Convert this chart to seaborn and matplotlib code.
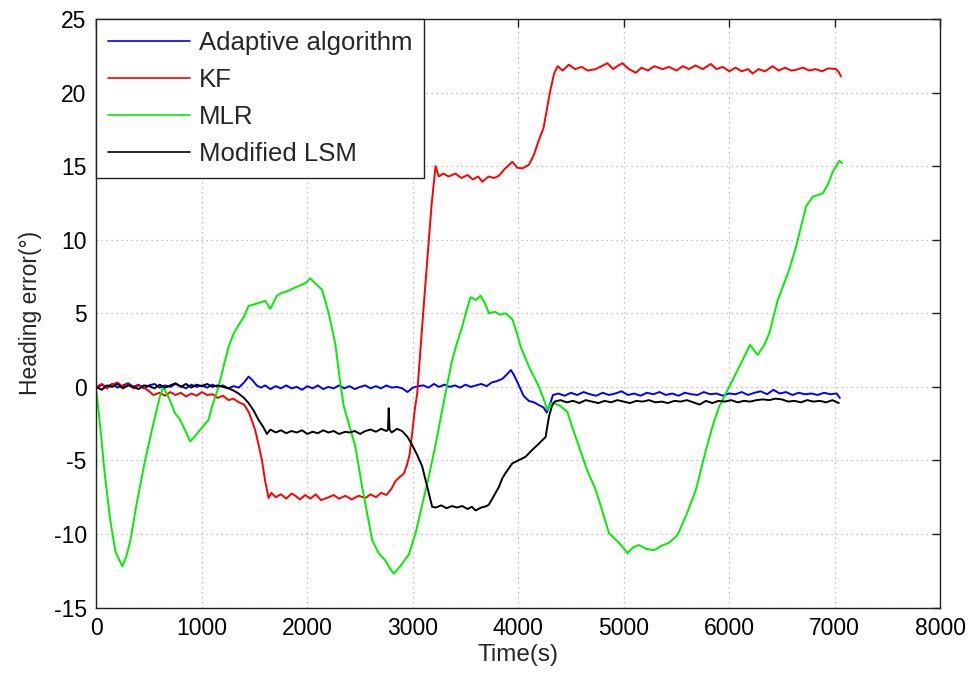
import matplotlib
matplotlib.use("Agg")
import matplotlib.pyplot as plt
import pandas as pd
import seaborn as sns

# ---------------- data ----------------
series_names = ["Adaptive algorithm", "KF", "MLR", "Modified LSM"]
series_colors = ["#0000ff", "#ff0000", "#00ee00", "#000000"]

x_ticks = [0, 1000, 2000, 3000, 4000, 5000, 6000, 7000, 8000]
y_ticks = [-15, -10, -5, 0, 5, 10, 15, 20, 25]

# (time s, heading error deg)
adaptive = [
    (0, -0.1), (50, 0.15), (100, 0.0), (150, 0.2), (200, -0.05), (250, 0.1), (300, 0.25), (350, 0.0),
    (400, 0.15), (450, -0.1), (500, 0.1), (550, 0.2), (600, -0.05), (650, 0.1), (700, 0.0), (750, 0.2),
    (800, 0.05), (850, -0.1), (900, 0.15), (950, 0.0), (1000, 0.1), (1050, -0.05), (1100, 0.15),
    (1150, 0.0), (1200, 0.1), (1250, -0.1), (1300, 0.05), (1350, -0.05), (1400, 0.3), (1443, 0.7),
    (1480, 0.45), (1520, 0.1), (1560, -0.05), (1600, 0.1), (1650, -0.15), (1700, 0.05), (1750, -0.1),
    (1800, 0.1), (1850, -0.1), (1900, 0.0), (1950, -0.2), (2000, 0.05), (2050, -0.1), (2100, 0.1),
    (2150, -0.15), (2200, 0.0), (2250, -0.1), (2300, 0.1), (2350, -0.1), (2400, 0.05), (2450, -0.15),
    (2500, 0.0), (2550, 0.1), (2600, -0.1), (2650, 0.05), (2700, -0.1), (2750, 0.1), (2800, -0.05),
    (2850, 0.0), (2900, -0.1), (2950, -0.35), (3000, -0.05), (3050, 0.05), (3100, 0.1), (3150, -0.05),
    (3200, 0.2), (3250, 0.0), (3300, 0.15), (3350, 0.0), (3400, 0.1), (3450, -0.05), (3500, 0.15),
    (3550, 0.0), (3600, 0.1), (3650, 0.2), (3700, 0.05), (3750, 0.3), (3800, 0.4), (3850, 0.55),
    (3900, 0.9), (3930, 1.15), (3960, 0.8), (4000, 0.2), (4050, -0.6), (4100, -0.95), (4150, -1.05),
    (4200, -1.25), (4240, -1.4), (4270, -1.75), (4300, -1.2), (4330, -0.55),
    (4380, -0.45), (4440, -0.6), (4500, -0.4), (4560, -0.55), (4620, -0.35), (4680, -0.5), (4740, -0.6),
    (4800, -0.4), (4860, -0.55), (4920, -0.45), (4980, -0.3), (5040, -0.55), (5100, -0.45), (5160, -0.6),
    (5220, -0.4), (5280, -0.5), (5340, -0.35), (5400, -0.55), (5460, -0.45), (5520, -0.6), (5580, -0.4),
    (5640, -0.5), (5700, -0.55), (5760, -0.35), (5820, -0.5), (5880, -0.45), (5940, -0.6), (6000, -0.45),
    (6060, -0.5), (6120, -0.35), (6180, -0.55), (6240, -0.4), (6300, -0.3), (6360, -0.5), (6420, -0.2),
    (6480, -0.45), (6540, -0.35), (6600, -0.55), (6660, -0.4), (6720, -0.5), (6780, -0.45), (6840, -0.55),
    (6900, -0.4), (6960, -0.5), (7020, -0.45), (7050, -0.75),
]

kf = [
    (0, 0.0), (50, 0.2), (100, -0.1), (150, 0.15), (200, 0.3), (250, 0.0), (300, 0.2), (350, -0.1),
    (400, 0.1), (450, -0.05), (500, -0.3), (540, -0.55), (600, -0.4), (650, -0.6), (700, -0.35),
    (750, -0.55), (800, -0.4), (850, -0.65), (900, -0.45), (950, -0.6), (1000, -0.35), (1050, -0.55),
    (1100, -0.5), (1150, -0.75), (1200, -0.6), (1253, -0.9), (1300, -0.8), (1350, -1.05), (1400, -1.2),
    (1443, -1.7), (1480, -2.4), (1506, -2.95), (1540, -4.0), (1570, -5.0), (1600, -6.4), (1633, -7.55),
    (1660, -7.2), (1700, -7.5), (1750, -7.3), (1800, -7.6), (1850, -7.25), (1886, -7.4), (1930, -7.65),
    (1980, -7.35), (2030, -7.6), (2080, -7.3), (2130, -7.7), (2203, -7.5), (2250, -7.35), (2300, -7.6),
    (2361, -7.4), (2420, -7.65), (2487, -7.4), (2550, -7.55), (2600, -7.3), (2650, -7.5), (2700, -7.2),
    (2750, -7.35), (2800, -6.9), (2836, -6.4), (2880, -6.1), (2915, -5.9), (2945, -5.3), (2970, -4.6),
    (2994, -3.15), (3020, -1.5), (3042, -0.45), (3089, 4.1), (3137, 8.6), (3180, 12.5), (3216, 15.0),
    (3247, 14.3), (3290, 14.5), (3340, 14.3), (3405, 14.5), (3460, 14.2), (3520, 14.4), (3570, 14.1),
    (3620, 14.3), (3659, 13.95), (3720, 14.3), (3770, 14.2), (3817, 14.35), (3870, 14.8), (3944, 15.3),
    (3990, 14.9), (4039, 14.85), (4102, 15.1), (4150, 15.8), (4197, 16.8), (4240, 17.6), (4270, 18.8),
    (4300, 20.0), (4340, 21.3), (4375, 21.8), (4420, 21.5), (4480, 21.9), (4540, 21.6), (4600, 21.75),
    (4660, 21.5), (4735, 21.6), (4790, 21.8), (4846, 22.0), (4900, 21.6), (4950, 21.85), (4988, 22.0),
    (5050, 21.6), (5115, 21.35), (5170, 21.7), (5230, 21.5), (5290, 21.8), (5368, 21.6), (5430, 21.75),
    (5500, 21.5), (5560, 21.8), (5620, 21.6), (5680, 21.85), (5750, 21.6), (5827, 21.95), (5880, 21.6),
    (5940, 21.75), (6001, 21.45), (6060, 21.7), (6120, 21.45), (6180, 21.6), (6223, 21.3), (6280, 21.6),
    (6340, 21.45), (6413, 21.8), (6470, 21.5), (6530, 21.7), (6590, 21.5), (6634, 21.55), (6700, 21.7),
    (6760, 21.5), (6820, 21.6), (6880, 21.45), (6940, 21.65), (7014, 21.6), (7040, 21.4), (7060, 21.1),
]

mlr = [
    (0, -0.3), (40, -3.0), (80, -6.0), (130, -9.0), (180, -11.2), (246, -12.2), (280, -11.6),
    (320, -10.5), (380, -8.0), (461, -5.0), (540, -2.5), (600, -0.7), (635, 0.0), (690, -0.8),
    (746, -1.8), (790, -2.2), (825, -2.7), (889, -3.7), (930, -3.4), (968, -3.05), (1020, -2.6),
    (1063, -2.25), (1095, -1.35), (1158, 0.0), (1205, 1.37), (1253, 2.73), (1300, 3.6), (1348, 4.2),
    (1400, 4.8), (1443, 5.5), (1490, 5.6), (1538, 5.7), (1601, 5.85), (1649, 5.3), (1712, 6.2),
    (1760, 6.4), (1810, 6.5), (1855, 6.65), (1900, 6.8), (1950, 6.95), (1990, 7.1), (2028, 7.38),
    (2080, 7.0), (2140, 6.6), (2203, 5.0), (2266, 2.9), (2310, 0.4), (2345, -1.3), (2456, -4.07),
    (2519, -6.78), (2560, -8.3), (2614, -10.4), (2677, -11.3), (2740, -11.8), (2780, -12.3),
    (2820, -12.7), (2880, -12.2), (2962, -11.4), (3026, -9.95), (3090, -8.0), (3152, -6.1),
    (3220, -3.8), (3279, -1.57), (3330, 0.3), (3374, 1.83), (3420, 3.0), (3469, 4.1), (3510, 5.2),
    (3548, 6.1), (3600, 5.9), (3643, 6.2), (3690, 5.6), (3722, 5.0), (3780, 5.1), (3830, 4.9),
    (3880, 5.0), (3944, 4.6), (3990, 3.6), (4023, 2.73), (4100, 1.4), (4197, 0.0), (4240, -0.8),
    (4276, -1.57), (4310, -1.1), (4339, -1.1), (4400, -1.3), (4466, -1.7), (4520, -2.9), (4577, -4.07),
    (4650, -5.6), (4735, -7.0), (4800, -8.5), (4861, -9.95), (4956, -10.6), (5036, -11.3),
    (5090, -10.9), (5146, -10.75), (5210, -11.0), (5289, -11.1), (5360, -10.8), (5430, -10.6),
    (5511, -10.07), (5600, -8.6), (5685, -7.0), (5780, -4.3), (5850, -2.5), (5906, -1.34),
    (6017, 0.24), (6128, 1.83), (6198, 2.85), (6270, 2.17), (6330, 2.8), (6381, 3.64), (6461, 5.9),
    (6530, 7.2), (6571, 8.0), (6634, 9.5), (6729, 12.25), (6793, 12.93), (6888, 13.16), (6940, 13.8),
    (6983, 14.63), (7046, 15.38), (7071, 15.2),
]

modified_lsm = [
    (0, 0.0), (50, -0.2), (100, 0.1), (150, 0.0), (200, 0.2), (250, -0.1), (300, 0.1), (350, 0.0),
    (400, -0.15), (450, 0.1), (500, 0.05), (550, -0.1), (600, 0.15), (650, -0.05), (700, 0.1),
    (750, 0.25), (800, 0.0), (850, 0.2), (900, -0.05), (950, 0.15), (1000, 0.05), (1050, 0.2),
    (1100, 0.0), (1150, 0.1), (1200, 0.0), (1253, -0.1), (1300, -0.25), (1348, -0.45), (1400, -0.75),
    (1443, -1.1), (1490, -1.6), (1538, -2.25), (1580, -2.7), (1617, -3.2), (1650, -2.9), (1700, -3.1),
    (1750, -2.95), (1800, -3.15), (1850, -3.0), (1900, -3.1), (1950, -2.95), (2000, -3.2), (2050, -3.05),
    (2100, -3.15), (2150, -2.95), (2200, -3.1), (2250, -3.0), (2300, -3.2), (2361, -3.05), (2400, -3.1),
    (2450, -3.0), (2500, -3.2), (2550, -3.0), (2600, -2.9), (2650, -3.05), (2700, -2.85), (2750, -3.0),
    (2765, -2.9), (2772, -1.45), (2780, -2.9), (2800, -3.1), (2850, -2.85), (2899, -3.0), (2950, -3.4),
    (2994, -3.95), (3040, -4.6), (3089, -5.4), (3120, -6.3), (3152, -7.25), (3184, -8.15), (3220, -8.2),
    (3270, -8.05), (3320, -8.25), (3370, -8.1), (3420, -8.2), (3469, -8.1), (3520, -8.3), (3560, -8.15),
    (3596, -8.4), (3650, -8.2), (3700, -8.1), (3722, -8.0), (3770, -7.4), (3817, -6.8), (3850, -6.2),
    (3880, -5.85), (3944, -5.2), (4000, -5.0), (4070, -4.75), (4130, -4.3), (4197, -3.85), (4260, -3.4),
    (4292, -2.0), (4320, -1.3), (4345, -1.0),
    (4400, -0.9), (4460, -1.05), (4520, -0.95), (4580, -1.1), (4640, -0.9), (4700, -1.0), (4760, -1.1),
    (4820, -0.95), (4880, -1.05), (4940, -0.9), (5000, -1.0), (5060, -1.1), (5120, -0.95), (5180, -1.0),
    (5240, -0.9), (5300, -1.05), (5360, -1.0), (5420, -1.1), (5480, -0.95), (5540, -1.0), (5600, -0.9),
    (5660, -1.05), (5720, -1.2), (5780, -0.95), (5840, -1.1), (5900, -0.95), (5960, -1.0), (6020, -0.9),
    (6080, -1.05), (6140, -0.95), (6200, -1.0), (6260, -0.9), (6320, -0.85), (6380, -0.9), (6440, -0.8),
    (6500, -0.85), (6560, -1.0), (6620, -0.95), (6680, -1.05), (6740, -0.9), (6800, -1.0), (6860, -0.95),
    (6920, -1.05), (6980, -0.9), (7040, -1.1),
]

all_series = [adaptive, kf, mlr, modified_lsm]

frames = []
for name, pts in zip(series_names, all_series):
    t, v = zip(*pts)
    frames.append(pd.DataFrame({"time": t, "err": v, "series": name}))
df = pd.concat(frames, ignore_index=True)

# ---------------- style ----------------
sns.set_theme(style="white")
plt.rcParams["font.family"] = ["Liberation Sans", "DejaVu Sans"]
plt.rcParams["axes.unicode_minus"] = False

fig = plt.figure(figsize=(9.73, 6.79), dpi=100)
ax = fig.add_axes([0.0991, 0.1052, 0.8670, 0.8667])

for name, col in zip(series_names, series_colors):
    sub = df[df["series"] == name]
    sns.lineplot(data=sub, x="time", y="err", color=col, linewidth=1.4,
                 label=name, ax=ax, estimator=None, sort=False)

ax.set_xlim(0, 8000)
ax.set_ylim(-15, 25)
ax.set_xticks(x_ticks)
ax.set_yticks(y_ticks)
ax.set_xticklabels([str(x) for x in x_ticks])
ax.set_yticklabels([str(y) for y in y_ticks])

ax.grid(True, linestyle=(0, (1, 3)), color="#b0b0b0", linewidth=0.9)
ax.set_axisbelow(True)
for s in ax.spines.values():
    s.set_color("#222222")
    s.set_linewidth(1.0)
    s.set_visible(True)

ax.tick_params(axis="both", which="major", direction="in", length=6, width=1.0,
               colors="#222222", labelcolor="black", labelsize=16.5,
               top=True, right=True, pad=7)

ax.set_xlabel("Time(s)", fontsize=17.5, labelpad=3)
ax.set_ylabel("Heading error(°)", fontsize=16.5, labelpad=8)

leg = ax.legend(loc="upper left", bbox_to_anchor=(0, 1), borderaxespad=0,
                fontsize=18.5, frameon=True, fancybox=False, framealpha=1,
                edgecolor="#222222", handlelength=3.2, handletextpad=0.35,
                labelspacing=0.51, borderpad=0.45)
leg.get_frame().set_linewidth(1.0)
for line in leg.get_lines():
    line.set_linewidth(1.2)

fig.savefig("out.png", dpi=100)
